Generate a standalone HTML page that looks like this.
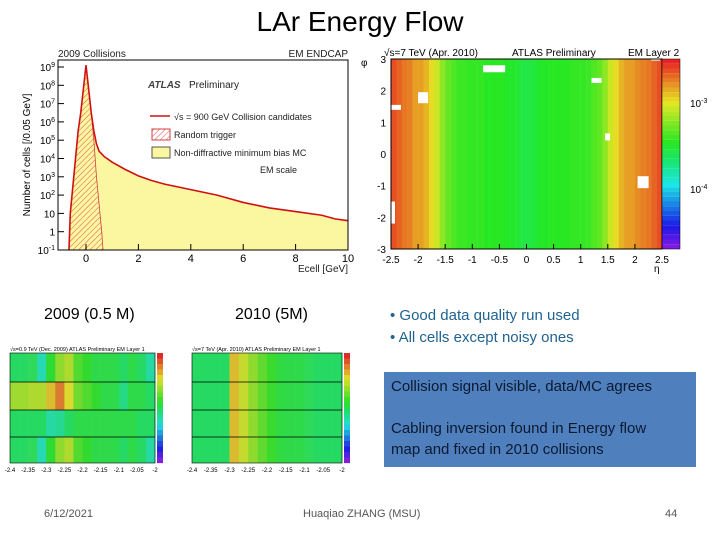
<!DOCTYPE html>
<html><head><meta charset="utf-8">
<style>
body{margin:0;width:720px;height:540px;background:#fff;overflow:hidden;position:relative;font-family:"Liberation Sans",sans-serif}
.abs{position:absolute;white-space:nowrap}
</style></head>
<body>
<div class="abs" style="left:0;width:720px;top:6px;text-align:center;font-size:28px;color:#000">LAr Energy Flow</div>

<svg class="abs" style="left:0;top:0" width="720" height="540" id="svg"></svg>

<div class="abs" style="left:44px;top:306px;font-size:16px">2009 (0.5 M)</div>
<div class="abs" style="left:235px;top:306px;font-size:16px">2010 (5M)</div>
<div class="abs" style="left:390px;top:305px;font-size:15px;color:#1f6391;line-height:22px">• Good data quality run used<br>• All cells except noisy ones</div>
<div class="abs" style="left:384px;top:372px;width:312px;height:95px;background:#4f7fbd"></div>
<div class="abs" style="left:391px;top:376px;font-size:15px;color:#0a1a30;line-height:21px">Collision signal visible, data/MC agrees<br><br>Cabling inversion found in Energy flow<br>map and fixed in 2010 collisions</div>
<div class="abs" style="left:44px;top:508px;font-size:11px;color:#555">6/12/2021</div>
<div class="abs" style="left:303px;top:508px;font-size:11px;color:#555">Huaqiao ZHANG (MSU)</div>
<div class="abs" style="left:665px;top:508px;font-size:11px;color:#555">44</div>

<script>
// ---- histogram data (log10 counts) ----
const histE=[-0.65,-0.6,-0.5,-0.4,-0.3,-0.2,-0.1,0,0.1,0.2,0.3,0.4,0.5,0.7,1,1.5,2,2.5,3,4,5,6,7,8,9,9.5,10];
const dataLog=[-1,1,2.5,4,5.5,6.5,7.8,9.1,7.8,6.5,5.5,4.8,4.4,4.1,3.8,3.4,3.05,2.8,2.6,2.3,2.0,1.6,1.3,1.1,0.9,0.7,0.6];
const randE=[-0.65,-0.6,-0.5,-0.4,-0.3,-0.2,-0.1,0,0.1,0.2,0.3,0.4,0.5,0.6,0.65];
const randLog=[-1,1,2.5,4,5.5,6.5,7.8,9.1,7.8,6.5,5,3,1.5,0,-1];
const xTicks=[0,2,4,6,8,10];
const yTicks=[-1,0,1,2,3,4,5,6,7,8,9];
const yTickLabels=["10-1","1","10","102","103","104","105","106","107","108","109"];
// ---- big heatmap (log10 density per eta bin, 50 bins -2.5..2.5) ----
const etaVals=[-2.6,-2.65,-2.7,-2.72,-2.8,-2.8,-2.85,-2.95,-3.05,-3.2,-3.3,-3.35,-3.4,-3.4,-3.42,-3.42,-3.42,-3.45,-3.45,-3.45,-3.45,-3.48,-3.48,-3.52,-3.55,-3.55,-3.52,-3.48,-3.48,-3.45,-3.45,-3.45,-3.45,-3.42,-3.42,-3.42,-3.4,-3.35,-3.3,-3.2,-3.05,-2.95,-2.85,-2.8,-2.8,-2.75,-2.72,-2.7,-2.65,-2.6];
const etaTicks=[-2.5,-2,-1.5,-1,-0.5,0,0.5,1,1.5,2,2.5];
const phiTicks=[-3,-2,-1,0,1,2,3];
// ---- small heatmaps (relative 0..1) ----
const mini09Outer=[0.48,0.48,0.5,0.38,0.55,0.68,0.72,0.6,0.56,0.52,0.52,0.52,0.48,0.52,0.48,0.4];
const mini09Row1=[0.7,0.7,0.72,0.72,0.82,0.9,0.78,0.64,0.6,0.56,0.52,0.52,0.44,0.52,0.52,0.48];
const mini09Row2=[0.48,0.48,0.48,0.48,0.4,0.42,0.48,0.52,0.52,0.52,0.52,0.52,0.52,0.52,0.48,0.48];
const mini10=[0.48,0.48,0.48,0.48,0.82,0.75,0.68,0.62,0.57,0.53,0.52,0.52,0.5,0.48,0.48,0.48];
const miniTicks=["-2.4","-2.35","-2.3","-2.25","-2.2","-2.15","-2.1","-2.05","-2"];

const NS="http://www.w3.org/2000/svg";
const svg=document.getElementById('svg');
function mk(t,a,p){const e=document.createElementNS(NS,t);for(const k in a)e.setAttribute(k,a[k]);(p||svg).appendChild(e);return e;}
function col(f,s){f=Math.max(0,Math.min(1,f));return `hsl(${270-270*f},${s||85}%,${f<0.5?50:52}%)`;}

// histogram
const hg=mk('g',{});


const X=v=>86+26.2*v, Y=l=>250-18.3*(l+1);
function areaPath(es,ls){let d=`M${X(es[0])},250`;es.forEach((e,i)=>d+=` L${X(e)},${Y(ls[i])}`);return d+` L${X(es[es.length-1])},250 Z`;}
const mc=mk('path',{d:areaPath(histE,dataLog),fill:'#fbf7a0',stroke:'#777','stroke-width':0.8},hg);

const defs=mk('defs',{},hg);
const pat=mk('pattern',{id:'hatch',width:4,height:4,patternUnits:'userSpaceOnUse',patternTransform:'rotate(45)'},defs);
mk('line',{x1:0,y1:0,x2:0,y2:4,stroke:'#e05050','stroke-width':1},pat);
const rt=mk('path',{d:areaPath(randE,randLog),fill:'url(#hatch)',stroke:'#d04040','stroke-width':0.8},hg);

let dl='';histE.forEach((e,i)=>dl+=(i?' L':'M')+X(e)+','+Y(dataLog[i]));
const dline=mk('path',{d:dl,fill:'none',stroke:'#d01010','stroke-width':1.6},hg);

mk('rect',{x:58,y:60,width:290,height:190,fill:'none',stroke:'#000','stroke-width':1},hg);
xTicks.forEach(t=>{mk('line',{x1:X(t),y1:250,x2:X(t),y2:244,stroke:'#000'},hg);
 const tx=mk('text',{x:X(t),y:262,'font-size':11,'text-anchor':'middle'},hg);tx.textContent=t;
 });
yTicks.forEach((t,i)=>{mk('line',{x1:58,y1:Y(t),x2:64,y2:Y(t),stroke:'#000'},hg);
 const tx=mk('text',{x:55,y:Y(t)+4,'font-size':10,'text-anchor':'end'},hg);
 const s=yTickLabels[i];if(s.startsWith('10')&&s.length>2){tx.textContent='10';const sp=mk('tspan',{dy:-4,'font-size':7},tx);sp.textContent=s.slice(2);}else tx.textContent=s;
 });
const texts=[[58,57,'2009 Collisions',10,'start'],[348,57,'EM ENDCAP',10,'end'],[148,88,'ATLAS',10,'start'],[189,88,'Preliminary',10,'start'],[174,120,'√s = 900 GeV Collision candidates',9,'start'],[174,138,'Random trigger',9,'start'],[174,156,'Non-diffractive minimum bias MC',9,'start'],[260,173,'EM scale',9,'start'],[348,272,'E',10,'end']];
texts.forEach(t=>{const e=mk('text',{x:t[0],y:t[1],'font-size':t[3],'text-anchor':t[4],fill:t[2]==='ATLAS'?'#444':'#222','font-style':t[2]==='ATLAS'?'italic':'normal','font-weight':t[2]==='ATLAS'?'bold':'normal'},hg);e.textContent=t[2]==='E'?'Ecell [GeV]':t[2];});
mk('line',{x1:150,y1:116,x2:170,y2:116,stroke:'#d01010','stroke-width':1.5},hg);
mk('rect',{x:152,y:129,width:18,height:11,fill:'url(#hatch)',stroke:'#d04040'},hg);
mk('rect',{x:152,y:147,width:18,height:11,fill:'#fbf7a0',stroke:'#555'},hg);
const yl=mk('text',{x:30,y:155,'font-size':10,'text-anchor':'middle',transform:'rotate(-90 30 155)'},hg);yl.textContent='Number of cells [/0.05 GeV]';


// big heatmap
const mg=mk('g',{});


const EX=e=>391+(e+2.5)*54.2, PY=p=>154-p*31.7;
const cf=l=>(l+4.68)/2.19;
etaVals.forEach((v,i)=>{const r=mk('rect',{x:EX(-2.5+0.1*i),y:59,width:5.6,height:190,fill:col(cf(v),80)},mg);
 });
[[EX(-0.8),PY(2.8),22,7],[EX(-2),PY(1.95),10,11],[EX(1.2),PY(2.4),10,5],[EX(1.45),PY(0.65),5,7],[EX(2.05),PY(-0.7),11,12],[EX(-2.5),PY(-1.5),4,22],[EX(2.3),PY(3.2),9,8],[EX(-2.5),PY(1.55),10,5]].forEach(b=>mk('rect',{x:b[0],y:b[1],width:b[2],height:b[3],fill:'#fff'},mg));
mk('rect',{x:391,y:59,width:271,height:190,fill:'none',stroke:'#000'},mg);
for(let i=0;i<40;i++)mk('rect',{x:662,y:59+i*4.75,width:18,height:4.8,fill:col(1-i/39,80)},mg);
mk('rect',{x:662,y:59,width:18,height:190,fill:'none',stroke:'#000','stroke-width':0.5},mg);
etaTicks.forEach(t=>{const e=mk('text',{x:EX(t),y:263,'font-size':10,'text-anchor':'middle'},mg);e.textContent=t;mk('line',{x1:EX(t),y1:249,x2:EX(t),y2:244,stroke:'#000'},mg);});
phiTicks.forEach(t=>{const e=mk('text',{x:386,y:PY(t)+4,'font-size':10,'text-anchor':'end'},mg);e.textContent=t;});
[[384,56,'√s=7 TeV (Apr. 2010)'],[512,56,'ATLAS  Preliminary'],[628,56,'EM Layer 2'],[654,272,'η'],[361,66,'φ']].forEach(t=>{const e=mk('text',{x:t[0],y:t[1],'font-size':10},mg);e.textContent=t[2];});
[[690,107,'-3'],[690,193,'-4']].forEach(t=>{const e=mk('text',{x:t[0],y:t[1],'font-size':10},mg);e.textContent='10';const sp=mk('tspan',{dy:-4,'font-size':7},e);sp.textContent=t[2];});

// mini heatmaps
function mini(x0,w,rows,title,name){
 const g=mk('g',{});
 
 
 const cw=w/16;
 rows.forEach(r=>r[2].forEach((v,i)=>mk('rect',{x:x0+i*cw,y:r[0],width:cw+0.3,height:r[1],fill:col(v,70)},g)));
 mk('rect',{x:x0,y:353,width:w,height:110,fill:'none',stroke:'#000','stroke-width':0.6},g);
 mk('line',{x1:x0,y1:382,x2:x0+w,y2:382,stroke:'#000','stroke-width':0.8},g);
 mk('line',{x1:x0,y1:410,x2:x0+w,y2:410,stroke:'#000','stroke-width':0.8},g);
 mk('line',{x1:x0,y1:437,x2:x0+w,y2:437,stroke:'#000','stroke-width':0.8},g);
 for(let i=0;i<20;i++)mk('rect',{x:x0+w+2,y:353+i*5.5,width:6,height:5.6,fill:col(1-i/19,75)},g);
 miniTicks.forEach((t,i)=>{const e=mk('text',{x:x0+i*w/8,y:472,'font-size':6,'text-anchor':'middle'},g);e.textContent=t;});
 const e=mk('text',{x:x0,y:351,'font-size':5.5},g);e.textContent=title;
 
}
mini(10,145,[[353,29,mini09Outer],[382,28,mini09Row1],[410,27,mini09Row2],[437,26,mini09Outer]],'√s=0.9 TeV (Dec. 2009)     ATLAS Preliminary     EM Layer 1','mini-map-2009');
mini(192,150,[[353,110,mini10]],'√s=7 TeV (Apr. 2010)       ATLAS Preliminary     EM Layer 1','mini-map-2010');
</script>
</body></html>
